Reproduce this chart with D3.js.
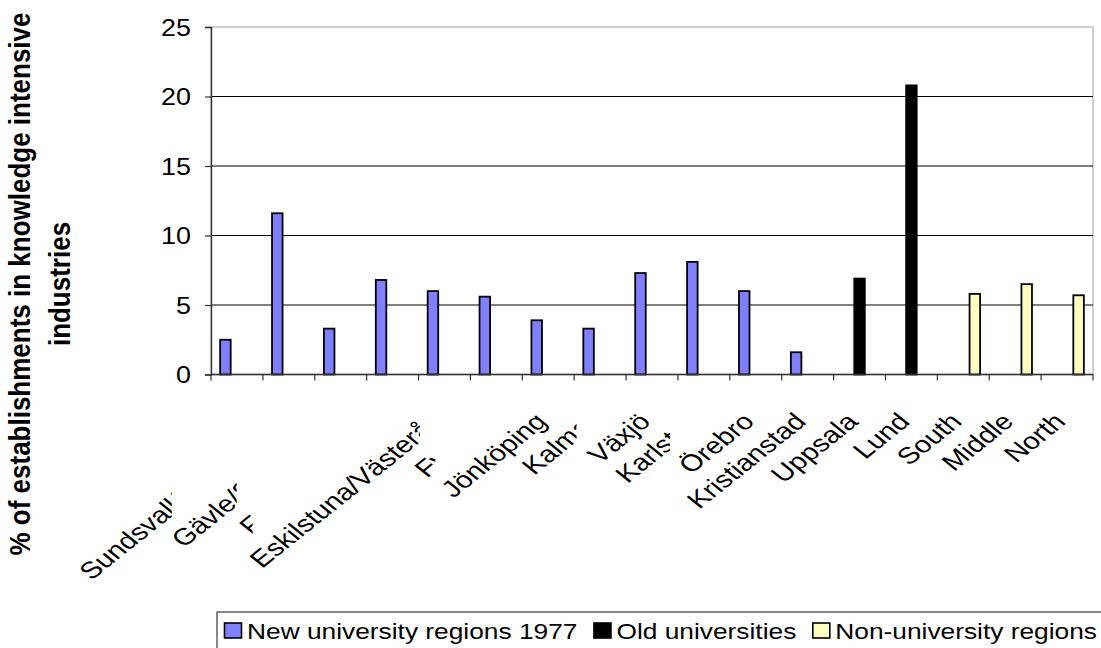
<!DOCTYPE html>
<meta charset="utf-8">
<script src="https://d3js.org/d3.v7.min.js"></script>
<style>
  body { margin: 0; background: #fff; }
  text { font-family: 'Liberation Sans', Arial, sans-serif; fill: #000; }
</style>
<body>
<div id="chart"></div>
<script>

// category labels (several are clipped by the chart, as in the original)
var categories = ["", "Sundsvall/Härnösand", "Gävle/Sandviken", "Falun/Borlänge", "Eskilstuna/Västerås",
  "Fyrstad", "Jönköping", "Kalmar", "Växjö", "Karlstad", "Örebro", "Kristianstad",
  "Uppsala", "Lund", "South", "Middle", "North"];
var newUniversity = [2.5, 11.6, 3.3, 6.8, 6.0, 5.6, 3.9, 3.3, 7.3, 8.1, 6.0, 1.6, null, null, null, null, null];
var oldUniversity = [null, null, null, null, null, null, null, null, null, null, null, null, 6.9, 20.8, null, null, null];
var nonUniversity = [null, null, null, null, null, null, null, null, null, null, null, null, null, null, 5.8, 6.5, 5.7];
var seriesNames = ["New university regions 1977", "Old universities", "Non-university regions"];
var yTicks = [0, 5, 10, 15, 20, 25];

var colors = ["#8080ff", "#000000", "#ffffc0"];
// where each rotated label gets cut off (offset from band centre), null = not cut
var labelCut = [null, -117, -104, -140, -24.5, -61, null, -23.5, null, -34, null, null, null, null, null, null, null];

var W = 1101, H = 648;
var plotL = 211, plotR = 1093, plotT = 27, plotB = 374.5;
var sx = 1.17;   // horizontal stretch of the original text
var sxr = 1.25;

var svg = d3.select("#chart").append("svg")
  .attr("width", W).attr("height", H);

var x0 = d3.scaleBand().domain(d3.range(categories.length)).range([plotL, plotR]);
var x1 = d3.scaleBand().domain(d3.range(3)).range([0, x0.bandwidth()]).paddingOuter(0.75);
var y = d3.scaleLinear().domain([0, 25]).range([plotB, plotT]);

// plot area border
svg.append("rect")
  .attr("x", plotL).attr("y", plotT)
  .attr("width", plotR - plotL).attr("height", plotB - plotT)
  .attr("fill", "none").attr("stroke", "#c0c0c0").attr("stroke-width", 1.5);

// gridlines
svg.append("g").selectAll("line")
  .data(yTicks.filter(function(d) { return d > 0 && d < 25; }))
  .enter().append("line")
    .attr("x1", plotL).attr("x2", plotR)
    .attr("y1", function(d) { return y(d); }).attr("y2", function(d) { return y(d); })
    .attr("stroke", "#000").attr("stroke-width", 1);

// bars
var series = [newUniversity, oldUniversity, nonUniversity];
series.forEach(function(vals, s) {
  svg.append("g").selectAll("rect")
    .data(vals.map(function(v, i) { return {i: i, v: v}; }).filter(function(d) { return d.v != null; }))
    .enter().append("rect")
      .attr("x", function(d) { return x0(d.i) + x1(s) + 0.5; })
      .attr("y", function(d) { return y(d.v); })
      .attr("width", x1.bandwidth() - 1)
      .attr("height", function(d) { return y(0) - y(d.v); })
      .attr("fill", colors[s])
      .attr("stroke", "#000").attr("stroke-width", 1.8);
});

// y axis
var yAxis = svg.append("g")
  .attr("transform", "translate(" + plotL + ",0)")
  .call(d3.axisLeft(y).tickValues(yTicks).tickSize(6).tickPadding(0));
yAxis.select(".domain").attr("stroke", "#333").attr("stroke-width", 1.4);
yAxis.selectAll(".tick line").attr("stroke", "#333").attr("stroke-width", 1.2);
yAxis.selectAll(".tick text")
  .attr("x", 0).attr("dy", null).attr("y", 0)
  .attr("transform", "translate(-20,8.2) scale(" + sx + ",1)")
  .style("font-size", "23px").style("font-family", "'Liberation Sans', Arial, sans-serif")
  .attr("text-anchor", "end");

// x axis: line and ticks at band edges
svg.append("line")
  .attr("x1", plotL).attr("x2", plotR).attr("y1", plotB).attr("y2", plotB)
  .attr("stroke", "#333").attr("stroke-width", 1.4);
svg.append("g").selectAll("line")
  .data(d3.range(categories.length + 1))
  .enter().append("line")
    .attr("x1", function(i) { return plotL + i * x0.step(); })
    .attr("x2", function(i) { return plotL + i * x0.step(); })
    .attr("y1", plotB).attr("y2", plotB + 6)
    .attr("stroke", "#333").attr("stroke-width", 1.2);

// rotated category labels
var defs = svg.append("defs");
var labels = svg.append("g");
categories.forEach(function(name, i) {
  var cx = x0(i) + x0.bandwidth() / 2;
  var g = labels.append("g");
  if (labelCut[i] != null) {
    defs.append("clipPath").attr("id", "cut" + i)
      .append("rect").attr("x", -2000).attr("y", -2000)
      .attr("width", 2000 + cx + labelCut[i]).attr("height", 4000);
    g.attr("clip-path", "url(#cut" + i + ")");
  }
  g.append("text")
    .attr("transform", "translate(" + cx + ",423) scale(" + sxr + ",1) rotate(-45)")
    .attr("text-anchor", "end")
    .style("font-size", "23.5px")
    .text(name);
});

// y axis title
var title = ["% of establishments in knowledge intensive", "industries"];
title.forEach(function(t, k) {
  svg.append("text")
    .attr("transform", "translate(" + (30 + k * 40) + ",284) scale(" + sx + ",1) rotate(-90)")
    .attr("text-anchor", "middle")
    .style("font-size", "26px").style("font-weight", "bold")
    .text(t);
});

// legend
svg.append("rect")
  .attr("x", 217).attr("y", 612).attr("width", 1000).attr("height", 100)
  .attr("fill", "#fff").attr("stroke", "#555").attr("stroke-width", 1.4);
var lx = 224.5;
seriesNames.forEach(function(name, s) {
  svg.append("rect")
    .attr("x", lx).attr("y", 623).attr("width", 17).attr("height", 15)
    .attr("fill", colors[s]).attr("stroke", "#000").attr("stroke-width", 1.6);
  var t = svg.append("text")
    .attr("transform", "translate(" + (lx + 22.5) + ",639) scale(" + sx + ",1)")
    .style("font-size", "22.5px")
    .text(name);
  lx += 22.5 + t.node().getComputedTextLength() * sx + 16.5;
});

</script>
</body>
